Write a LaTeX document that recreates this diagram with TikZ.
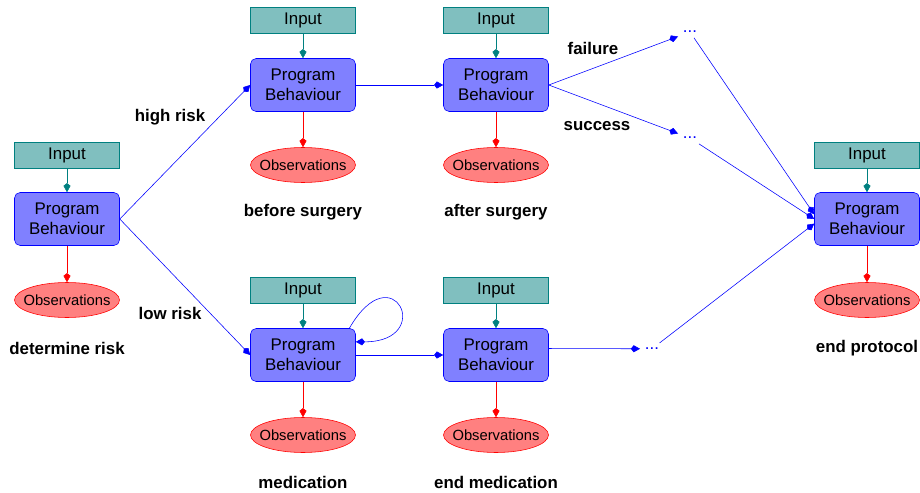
\documentclass[tikz,border=0pt]{standalone}
\usepackage{fontspec}
\setmainfont{Liberation Sans}
\usetikzlibrary{arrows.meta,shapes.geometric}

\begin{document}
\begin{tikzpicture}
[input/.style={rectangle, draw=teal, fill=teal!50, minimum width=2.625cm, minimum height=0.65cm, inner sep=0pt, font=\fontsize{12}{14}\selectfont},
 prog/.style={rectangle, rounded corners=4pt, draw=blue, fill=blue!50, minimum width=2.625cm, minimum height=1.325cm, inner sep=0pt, align=center, font=\fontsize{12}{14}\selectfont},
 obs/.style={ellipse, draw=red, fill=red!50, minimum width=2.625cm, minimum height=0.875cm, inner xsep=-5pt, inner ysep=0pt, font=\fontsize{10.5}{12}\selectfont},
 dots/.style={text=blue, font=\fontsize{12}{14}\selectfont},
 lbl/.style={font=\bfseries\fontsize{12}{14}\selectfont},
 >={Kite[length=6.5pt,width=5pt,inset=2pt]}]

\useasboundingbox (0,0) rectangle (23,-12.325);

% determine risk
\node[input] (i1) at (1.675,-3.875) {Input};
\node[prog] (p1) at (1.675,-5.475) {Program \\ Behaviour};
\node[obs] (o1) at (1.675,-7.5) {Observations};
\node[lbl] (l1) at (1.675,-8.7) {determine risk};

% before surgery
\node[input] (i2) at (7.575,-0.5) {Input};
\node[prog] (p2) at (7.575,-2.125) {Program \\ Behaviour};
\node[obs] (o2) at (7.575,-4.125) {Observations};
\node[lbl] (l2) at (7.575,-5.3) {before surgery};

% after surgery
\node[input] (i3) at (12.4,-0.5) {Input};
\node[prog] (p3) at (12.4,-2.125) {Program \\ Behaviour};
\node[obs] (o3) at (12.4,-4.125) {Observations};
\node[lbl] (l3) at (12.4,-5.3) {after surgery};

% medication
\node[input] (i4) at (7.575,-7.25) {Input};
\node[prog] (p4) at (7.575,-8.875) {Program \\ Behaviour};
\node[obs] (o4) at (7.575,-10.875) {Observations};
\node[lbl] (l4) at (7.575,-12.05) {medication};

% end medication
\node[input] (i5) at (12.4,-7.25) {Input};
\node[prog] (p5) at (12.4,-8.875) {Program \\ Behaviour};
\node[obs] (o5) at (12.4,-10.875) {Observations};
\node[lbl] (l5) at (12.4,-12.05) {end medication};

% end protocol
\node[input] (i6) at (21.675,-3.875) {Input};
\node[prog] (p6) at (21.675,-5.475) {Program \\ Behaviour};
\node[obs] (o6) at (21.675,-7.5) {Observations};
\node[lbl] (l6) at (21.675,-8.7) {end protocol};

\node[dots] (d1) at (17.25,-0.8) {...};
\node[dots] (d2) at (17.25,-3.45) {...};
\node[dots] (d3) at (16.3,-8.72) {...};

\node[lbl] (hr) at (4.25,-2.925) {high risk};
\node[lbl] (lr) at (4.25,-7.825) {low risk};
\node[lbl] (fl) at (14.825,-1.2) {failure};
\node[lbl] (sc) at (14.925,-3.15) {success};

\foreach \n in {1,...,6} {
  \draw[teal] (i\n) edge[->] (p\n);
  \draw[red] (p\n) edge[->] (o\n);
}

\draw[blue] (p1.east) edge[->] (p2.west);
\draw[blue] (p1.east) edge[->] (p4.west);
\draw[blue] (p2) edge[->] (p3);
\draw[blue] (p3.east) edge[->] (d1);
\draw[blue] (p3.east) edge[->] (d2);
\draw[blue] (p4) edge[->] (p5);
\draw[blue] (p5.7) edge[->] (d3);
\draw[blue] (d1) edge[->] (p6.175);
\draw[blue] (d2) edge[->] (p6.west);
\draw[blue] (d3) edge[->] (p6.185);
\draw[->, blue] (p4.30) .. controls +(60:2.2cm) and +(0:2cm) .. (p4.14);
\end{tikzpicture}
\end{document}
